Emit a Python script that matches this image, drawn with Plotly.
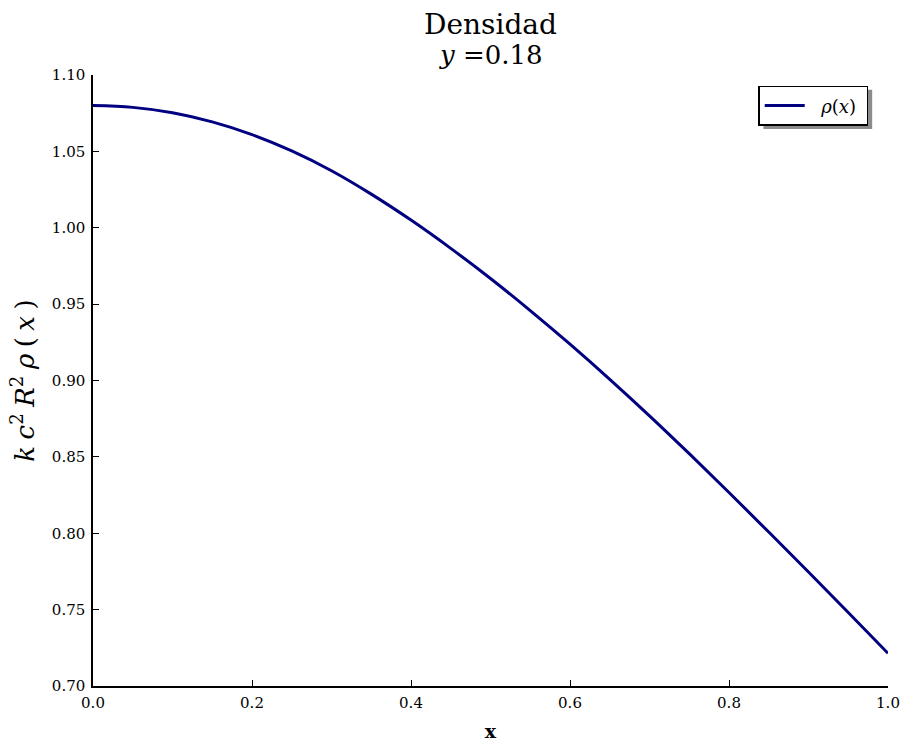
import plotly.graph_objects as go

x_vals = [0.00, 0.05, 0.10, 0.15, 0.20, 0.25, 0.30, 0.35, 0.40, 0.45, 0.50,
          0.55, 0.60, 0.65, 0.70, 0.75, 0.80, 0.85, 0.90, 0.95, 1.00]
rho_vals = [1.0800, 1.0788, 1.0753, 1.0693, 1.0610, 1.0503, 1.0373, 1.0220,
            1.0050, 0.9865, 0.9668, 0.9458, 0.9238, 0.9008, 0.8769, 0.8521,
            0.8267, 0.8008, 0.7746, 0.7481, 0.7214]
x_ticks = [0.0, 0.2, 0.4, 0.6, 0.8, 1.0]
y_ticks = [0.70, 0.75, 0.80, 0.85, 0.90, 0.95, 1.00, 1.05, 1.10]
title_lines = ["Densidad", "<i>y</i> =0.18"]

FONT = "DejaVu Serif, Liberation Serif, serif"
W, H = 912, 751
ML, MR, MT, MB = 93, 15, 75, 55
PW, PH = W - ML - MR, H - MT - MB


def px_x(p):
    return (p - ML) / PW


def px_y(p):
    return (H - MB - p) / PH


sp = "\u2005"
fig = go.Figure()
fig.add_trace(go.Scatter(
    x=x_vals, y=rho_vals, mode="lines", line_shape="spline",
    line=dict(color="#000080", width=3),
    name="\u00a0\u00a0<i>ρ</i>(<i>x</i>)\u00a0",
))

# legend shadow
fig.add_shape(type="rect", xref="paper", yref="paper",
              x0=px_x(771), x1=px_x(881), y0=px_y(130), y1=px_y(90),
              fillcolor="rgba(0,0,0,0.45)", line=dict(width=0), layer="above")

fig.add_annotation(text=title_lines[0], xref="paper", yref="paper",
                   x=0.5, y=px_y(24), xanchor="center", yanchor="middle",
                   showarrow=False, font=dict(size=28, family=FONT))
fig.add_annotation(text=title_lines[1], xref="paper", yref="paper",
                   x=0.5, y=px_y(55), xanchor="center", yanchor="middle",
                   showarrow=False, font=dict(size=26, family=FONT))

fig.update_layout(
    width=W, height=H,
    margin=dict(l=ML, r=MR, t=MT, b=MB),
    paper_bgcolor="white", plot_bgcolor="white",
    font=dict(family=FONT, color="black", size=15),
    showlegend=True,
    legend=dict(x=px_x(877), y=px_y(86), xanchor="right", yanchor="top",
                bgcolor="white", bordercolor="black", borderwidth=1.5,
                itemwidth=40, tracegroupgap=0,
                font=dict(size=18, family=FONT)),
    xaxis=dict(range=[0, 1], tickvals=x_ticks, ticktext=[f"{v:.1f}" for v in x_ticks],
               ticks="inside", ticklen=6, tickcolor="black", tickwidth=1,
               showline=True, linecolor="black", linewidth=1.5, mirror=False,
               showgrid=False, zeroline=False, ticklabelstandoff=2,
               title=dict(text="<b>x</b>", font=dict(size=19), standoff=14)),
    yaxis=dict(range=[0.70, 1.10], tickvals=y_ticks, ticktext=[f"{v:.2f}" for v in y_ticks],
               ticks="inside", ticklen=6, tickcolor="black", tickwidth=1,
               showline=True, linecolor="black", linewidth=1.5, mirror=False,
               showgrid=False, zeroline=False, ticklabelstandoff=3,
               title=dict(text=f"<i>k{sp}c</i><sup>2</sup>{sp}<i>R</i><sup>2</sup>{sp}<i>ρ</i>{sp}({sp}<i>x</i>{sp})",
                          font=dict(size=26), standoff=10)),
)

fig.write_html("out.html", post_script="document.body.style.margin='0';")
